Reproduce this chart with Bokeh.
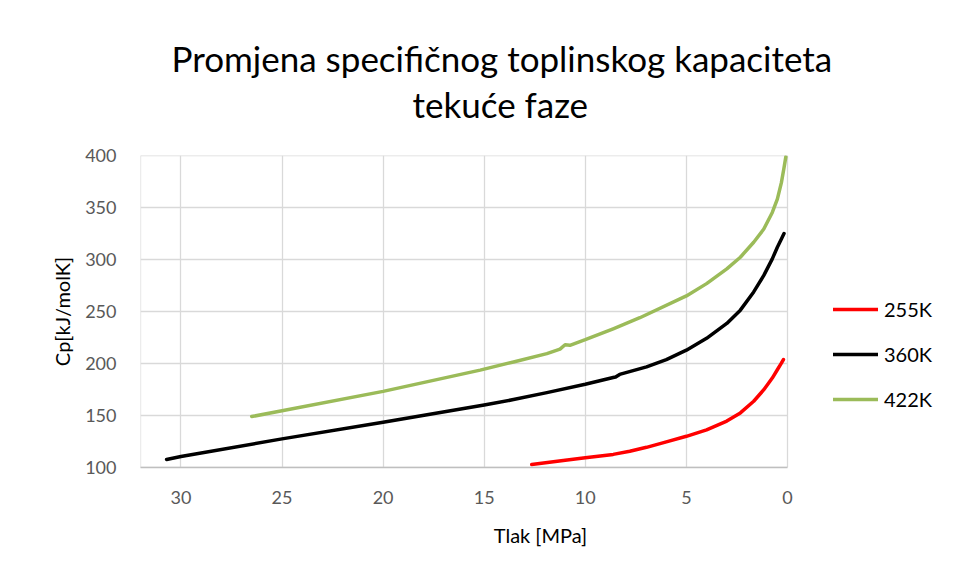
from bokeh.plotting import figure
from bokeh.models import Range1d, Legend, LegendItem, Title, FixedTicker
from bokeh.embed import file_html
from bokeh.resources import INLINE

# Data (pressure in MPa, Cp in kJ/molK)
p_255 = [12.65, 11.09, 10.0, 8.62, 7.8, 6.97, 5.99, 5.0, 4.0, 3.0, 2.33, 1.67, 1.17, 0.75, 0.5, 0.3, 0.2]
cp_255 = [102.9, 106.8, 109.4, 112.6, 115.6, 119.4, 124.6, 130.0, 136.2, 144.6, 152.5, 163.7, 174.8, 186.0, 194.0, 200.3, 203.8]

p_360 = [30.71, 30.0, 25.0, 20.0, 15.0, 13.55, 11.9, 10.0, 8.62, 8.5, 8.3, 6.97, 5.99, 5.0, 4.0, 3.0, 2.33, 1.67, 1.17, 0.75, 0.5, 0.3, 0.17]
cp_360 = [107.7, 110.5, 127.5, 143.5, 160.0, 165.3, 172.0, 180.0, 186.5, 187.0, 189.5, 196.8, 203.8, 212.8, 224.2, 238.5, 251.3, 268.8, 284.7, 300.6, 311.8, 319.7, 325.0]

p_422 = [26.5, 25.0, 20.0, 15.2, 13.55, 11.9, 11.25, 11.0, 10.76, 10.0, 8.62, 7.3, 5.0, 4.0, 3.0, 2.33, 1.67, 1.17, 0.75, 0.5, 0.3, 0.17, 0.08]
cp_422 = [149.0, 154.5, 173.2, 193.6, 201.5, 209.5, 213.8, 218.0, 217.5, 222.9, 233.4, 244.0, 265.0, 276.8, 291.0, 302.2, 316.6, 329.3, 345.2, 358.0, 373.9, 388.2, 398.7]

series_names = ["255K", "360K", "422K"]
series_colors = ["#ff0000", "#000000", "#9bbb59"]
x_ticks = [0, 5, 10, 15, 20, 25, 30]
y_ticks = [100, 150, 200, 250, 300, 350, 400]
X_MAX, Y_MIN, Y_MAX = 32, 100, 400

title_lines = ["Promjena specifičnog toplinskog kapaciteta", "tekuće faze"]
x_label = "Tlak [MPa]"
y_label = "Cp[kJ/molK]"

FONT = "Lato"
GRID = "#d9d9d9"

# frame extends to the right to host the legend; plot area is x in [0, 32]
p = figure(width=947, height=570, output_backend="svg", toolbar_location=None,
           x_range=Range1d(X_MAX, -7.57), y_range=Range1d(Y_MIN, Y_MAX),
           min_border_left=140, min_border_right=7, min_border_top=155, min_border_bottom=103)

p.outline_line_color = None
p.background_fill_color = "white"
p.border_fill_color = "white"

p.xgrid.ticker = FixedTicker(ticks=x_ticks)
p.xgrid.grid_line_color = GRID
p.xgrid.grid_line_width = 1.3
p.ygrid.visible = False

# horizontal gridlines + left edge of plot area, limited to the plot area
p.segment(x0=[X_MAX] * len(y_ticks), y0=y_ticks, x1=[0] * len(y_ticks), y1=y_ticks,
          line_color=GRID, line_width=1.3)
p.segment(x0=[X_MAX], y0=[Y_MIN], x1=[X_MAX], y1=[Y_MAX], line_color=GRID, line_width=1.3)

p.xaxis.ticker = FixedTicker(ticks=x_ticks)
p.xaxis.bounds = (0, X_MAX)
p.yaxis.ticker = FixedTicker(ticks=y_ticks)
for ax in (p.xaxis[0], p.yaxis[0]):
    ax.major_tick_line_color = None
    ax.minor_tick_line_color = None
    ax.major_label_text_font = FONT
    ax.major_label_text_font_size = "18px"
    ax.major_label_text_color = "#595959"
    ax.axis_label_text_font = FONT
    ax.axis_label_text_font_size = "20px"
    ax.axis_label_text_font_style = "normal"
    ax.axis_label_text_color = "#000000"
p.xaxis.axis_line_color = "#bfbfbf"
p.xaxis.axis_line_width = 1.3
p.yaxis.axis_line_color = None
p.xaxis.major_label_standoff = 17
p.yaxis.major_label_standoff = 18
p.xaxis.axis_label = x_label
p.yaxis.axis_label = y_label
p.xaxis.axis_label_standoff = 16
p.yaxis.axis_label_standoff = 8

items = []
for xs, ys, name, col in zip([p_255, p_360, p_422], [cp_255, cp_360, cp_422], series_names, series_colors):
    r = p.line(xs, ys, line_color=col, line_width=3.5, line_cap="round", line_join="round")
    items.append(LegendItem(label=name, renderers=[r]))

legend = Legend(items=items, location=(693, 56), orientation="vertical",
                glyph_width=45, glyph_height=20, label_height=20, spacing=21,
                label_standoff=6, padding=0, margin=0,
                label_text_font=FONT, label_text_font_size="20px", label_text_color="#000000",
                border_line_color=None, background_fill_alpha=0)
p.add_layout(legend)

# spacer title (layout only) between frame and the chart title
spacer = Title(text=" ", text_font_size="2px", standoff=26)
t2 = Title(text=title_lines[1], align="left", offset=272, text_font=FONT,
           text_font_size="35px", text_font_style="normal", text_color="#000000", standoff=2)
t1 = Title(text=title_lines[0], align="left", offset=31, text_font=FONT,
           text_font_size="35px", text_font_style="normal", text_color="#000000", standoff=2)
p.add_layout(spacer, "above")
p.add_layout(t2, "above")
p.add_layout(t1, "above")

open("out.html", "w").write(file_html(p, INLINE))
